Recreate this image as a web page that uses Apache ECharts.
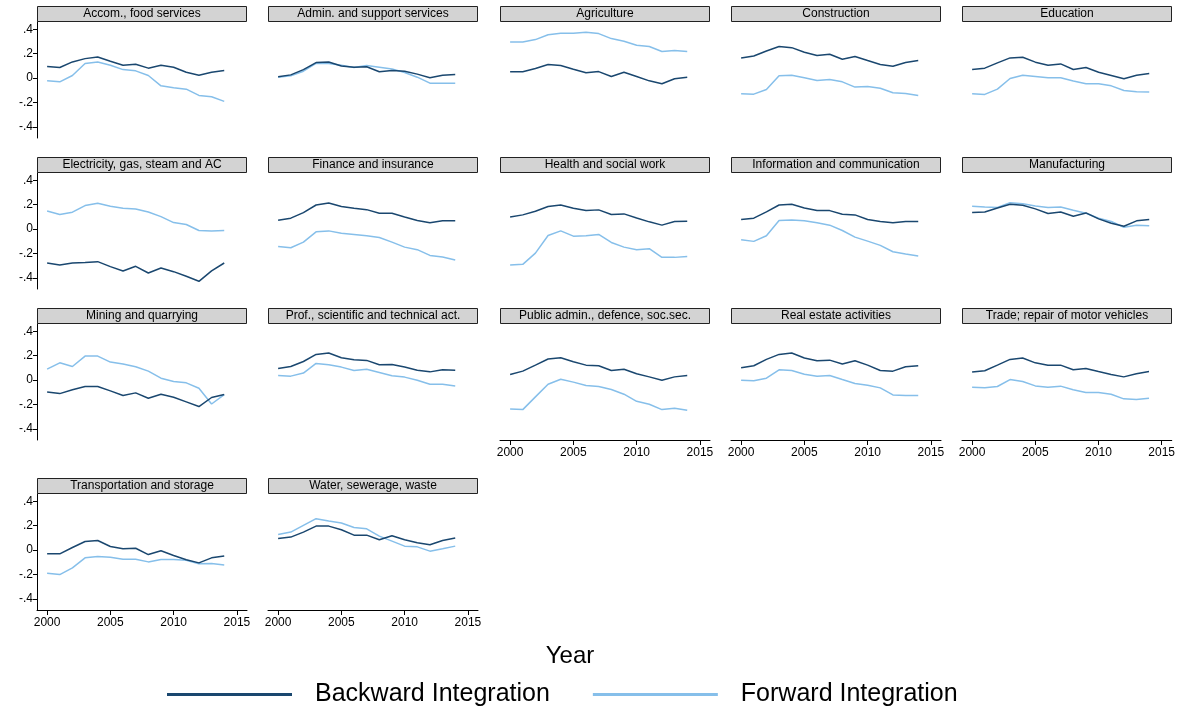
<!DOCTYPE html>
<html>
<head>
<meta charset="utf-8">
<script src="https://cdn.jsdelivr.net/npm/echarts@6/dist/echarts.min.js"></script>
<style>
  html, body { margin: 0; padding: 0; background: #fff; }
  #chart { width: 1178px; height: 709px; }
</style>
</head>
<body>
<div id="chart"></div>
<script>
const years = [2000, 2001, 2002, 2003, 2004, 2005, 2006, 2007, 2008, 2009, 2010, 2011, 2012, 2013, 2014];

const sectors = [
  "Accom., food services", "Admin. and support services", "Agriculture", "Construction", "Education",
  "Electricity, gas, steam and AC", "Finance and insurance", "Health and social work", "Information and communication", "Manufacturing",
  "Mining and quarrying", "Prof., scientific and technical act.", "Public admin., defence, soc.sec.", "Real estate activities", "Trade; repair of motor vehicles",
  "Transportation and storage", "Water, sewerage, waste"
];

// Backward integration, one row per sector (same order as sectors)
const backward = [
  [0.095, 0.087, 0.133, 0.160, 0.174, 0.139, 0.106, 0.114, 0.082, 0.106, 0.090, 0.049, 0.024, 0.049, 0.063],
  [0.011, 0.027, 0.070, 0.128, 0.133, 0.100, 0.090, 0.093, 0.052, 0.063, 0.057, 0.033, 0.003, 0.024, 0.030],
  [0.052, 0.052, 0.079, 0.112, 0.103, 0.073, 0.044, 0.054, 0.014, 0.049, 0.014, -0.022, -0.046, -0.005, 0.008],
  [0.166, 0.182, 0.223, 0.259, 0.250, 0.212, 0.185, 0.196, 0.155, 0.177, 0.144, 0.112, 0.098, 0.128, 0.144],
  [0.071, 0.082, 0.125, 0.166, 0.171, 0.131, 0.106, 0.117, 0.071, 0.087, 0.049, 0.022, -0.005, 0.024, 0.038],
  [-0.277, -0.293, -0.277, -0.272, -0.266, -0.307, -0.342, -0.304, -0.359, -0.318, -0.348, -0.386, -0.427, -0.342, -0.277],
  [0.073, 0.090, 0.136, 0.198, 0.215, 0.185, 0.171, 0.160, 0.130, 0.130, 0.100, 0.071, 0.052, 0.068, 0.068],
  [0.100, 0.117, 0.147, 0.185, 0.198, 0.171, 0.152, 0.158, 0.120, 0.125, 0.092, 0.060, 0.033, 0.063, 0.065],
  [0.079, 0.090, 0.141, 0.198, 0.204, 0.174, 0.152, 0.152, 0.122, 0.117, 0.079, 0.063, 0.052, 0.063, 0.063],
  [0.136, 0.141, 0.174, 0.204, 0.196, 0.166, 0.128, 0.141, 0.106, 0.133, 0.084, 0.049, 0.024, 0.068, 0.079],
  [-0.096, -0.110, -0.079, -0.052, -0.052, -0.088, -0.126, -0.104, -0.148, -0.115, -0.140, -0.178, -0.216, -0.142, -0.118],
  [0.096, 0.112, 0.153, 0.211, 0.222, 0.184, 0.167, 0.162, 0.126, 0.129, 0.107, 0.082, 0.068, 0.085, 0.082],
  [0.047, 0.074, 0.123, 0.173, 0.184, 0.151, 0.123, 0.118, 0.079, 0.090, 0.052, 0.027, 0.000, 0.027, 0.038],
  [0.101, 0.118, 0.170, 0.211, 0.222, 0.181, 0.159, 0.164, 0.132, 0.159, 0.123, 0.079, 0.074, 0.110, 0.118],
  [0.066, 0.077, 0.123, 0.170, 0.181, 0.142, 0.123, 0.123, 0.085, 0.096, 0.071, 0.047, 0.027, 0.052, 0.071],
  [-0.030, -0.030, 0.022, 0.071, 0.079, 0.030, 0.011, 0.016, -0.036, -0.005, -0.044, -0.079, -0.104, -0.063, -0.047],
  [0.096, 0.107, 0.148, 0.197, 0.197, 0.167, 0.123, 0.123, 0.085, 0.118, 0.085, 0.060, 0.044, 0.079, 0.099]
];

// Forward integration, one row per sector
const forward = [
  [-0.022, -0.030, 0.022, 0.120, 0.133, 0.106, 0.070, 0.060, 0.022, -0.063, -0.079, -0.090, -0.141, -0.152, -0.190],
  [0.008, 0.019, 0.057, 0.122, 0.120, 0.106, 0.087, 0.103, 0.090, 0.076, 0.046, 0.008, -0.041, -0.041, -0.041],
  [0.297, 0.297, 0.316, 0.356, 0.367, 0.367, 0.376, 0.365, 0.324, 0.302, 0.269, 0.259, 0.218, 0.226, 0.218],
  [-0.128, -0.131, -0.093, 0.019, 0.024, 0.003, -0.019, -0.011, -0.030, -0.073, -0.068, -0.082, -0.120, -0.125, -0.141],
  [-0.128, -0.133, -0.090, -0.003, 0.024, 0.014, 0.003, 0.003, -0.024, -0.046, -0.046, -0.063, -0.101, -0.112, -0.114],
  [0.149, 0.120, 0.139, 0.193, 0.212, 0.188, 0.171, 0.166, 0.141, 0.103, 0.054, 0.038, -0.011, -0.016, -0.011],
  [-0.141, -0.152, -0.106, -0.022, -0.014, -0.033, -0.043, -0.054, -0.068, -0.106, -0.147, -0.168, -0.215, -0.228, -0.253],
  [-0.293, -0.288, -0.196, -0.052, -0.014, -0.057, -0.054, -0.043, -0.109, -0.147, -0.168, -0.160, -0.231, -0.231, -0.223],
  [-0.087, -0.100, -0.054, 0.071, 0.076, 0.068, 0.052, 0.033, -0.011, -0.065, -0.098, -0.133, -0.185, -0.204, -0.220],
  [0.188, 0.182, 0.177, 0.217, 0.209, 0.190, 0.177, 0.182, 0.155, 0.130, 0.090, 0.063, 0.016, 0.033, 0.027],
  [0.090, 0.142, 0.112, 0.197, 0.197, 0.148, 0.132, 0.110, 0.074, 0.016, -0.011, -0.022, -0.066, -0.195, -0.118],
  [0.038, 0.033, 0.058, 0.137, 0.126, 0.107, 0.079, 0.090, 0.063, 0.036, 0.025, 0.000, -0.033, -0.033, -0.047],
  [-0.236, -0.241, -0.137, -0.033, 0.008, -0.016, -0.044, -0.052, -0.077, -0.115, -0.173, -0.197, -0.241, -0.230, -0.247],
  [0.000, -0.005, 0.016, 0.085, 0.079, 0.049, 0.033, 0.038, 0.005, -0.027, -0.041, -0.063, -0.121, -0.126, -0.126],
  [-0.058, -0.063, -0.052, 0.005, -0.011, -0.047, -0.058, -0.049, -0.079, -0.101, -0.101, -0.115, -0.153, -0.159, -0.148],
  [-0.189, -0.200, -0.145, -0.063, -0.052, -0.058, -0.074, -0.074, -0.096, -0.077, -0.077, -0.082, -0.112, -0.110, -0.121],
  [0.129, 0.148, 0.203, 0.258, 0.238, 0.222, 0.186, 0.175, 0.115, 0.074, 0.033, 0.027, -0.008, 0.011, 0.033]
];

const yTicks = [-0.4, -0.2, 0, 0.2, 0.4];
const xTicks = [2000, 2005, 2010, 2015];
const seriesNames = ["Backward Integration", "Forward Integration"];

const FONT = "'Liberation Sans', Arial, sans-serif";
const DARK = "#1a476f";
const LIGHT = "#86bfea";

// panel layout
const colLeft = [37, 268, 500, 731, 962];
const rowTop = [22, 173, 324, 494];
const panelW = 210, panelH = 116, headH = 16;
const bottomPanels = [12, 13, 14, 15, 16];

const chart = echarts.init(document.getElementById("chart"));

const grid = [], xAxis = [], yAxis = [], series = [], graphic = [];

sectors.forEach((name, i) => {
  const col = i % 5, row = Math.floor(i / 5);
  const left = colLeft[col], top = rowTop[row];
  const showX = bottomPanels.includes(i);
  const showY = col === 0;

  grid.push({ left: left, top: top, width: panelW, height: panelH });

  xAxis.push({
    type: "value",
    gridIndex: i,
    min: 1999.2,
    max: 2015.8,
    show: showX,
    axisLine: { show: showX, onZero: false, lineStyle: { color: "#000", width: 1 } },
    axisTick: { show: showX, length: 5, customValues: xTicks, lineStyle: { color: "#000" } },
    axisLabel: {
      show: showX, customValues: xTicks, margin: 7,
      color: "#000", fontSize: 12, fontFamily: FONT,
      formatter: v => String(v)
    },
    splitLine: { show: false }
  });

  yAxis.push({
    type: "value",
    gridIndex: i,
    min: -0.49,
    max: 0.46,
    show: showY,
    axisLine: { show: showY, lineStyle: { color: "#000", width: 1 } },
    axisTick: { show: showY, length: 4, customValues: yTicks, lineStyle: { color: "#000" } },
    axisLabel: {
      show: showY, customValues: yTicks, margin: 4,
      color: "#000", fontSize: 12, fontFamily: FONT,
      formatter: v => {
        if (Math.abs(v) < 1e-9) return "0";
        return (v < 0 ? "-" : "") + String(Math.abs(Math.round(v * 10) / 10)).replace("0.", ".");
      }
    },
    splitLine: { show: false }
  });

  series.push({
    name: seriesNames[0], type: "line", xAxisIndex: i, yAxisIndex: i,
    data: years.map((y, k) => [y, backward[i][k]]),
    showSymbol: false, z: 3,
    lineStyle: { color: DARK, width: 1.5 }, itemStyle: { color: DARK }
  });
  series.push({
    name: seriesNames[1], type: "line", xAxisIndex: i, yAxisIndex: i,
    data: years.map((y, k) => [y, forward[i][k]]),
    showSymbol: false, z: 2,
    lineStyle: { color: LIGHT, width: 1.5 }, itemStyle: { color: LIGHT }
  });

  // strip header above each panel
  graphic.push({
    type: "rect",
    shape: { x: left + 0.5, y: top - headH + 0.5, width: panelW - 1, height: headH - 1 },
    style: { fill: "#d3d3d3", stroke: "#222", lineWidth: 1 },
    silent: true
  });
  graphic.push({
    type: "text",
    x: left + panelW / 2,
    y: top - headH / 2,
    style: {
      text: name, fill: "#000", fontSize: 12, fontFamily: FONT,
      align: "center", verticalAlign: "middle",
      textAlign: "center", textVerticalAlign: "middle"
    },
    silent: true
  });
});

graphic.push({
  type: "text",
  x: 570,
  y: 656,
  style: {
    text: "Year", fill: "#000", fontSize: 24, fontFamily: FONT,
    align: "center", verticalAlign: "middle",
    textAlign: "center", textVerticalAlign: "middle"
  },
  silent: true
});

chart.setOption({
  animation: false,
  grid: grid,
  xAxis: xAxis,
  yAxis: yAxis,
  series: series,
  graphic: graphic,
  legend: {
    data: seriesNames,
    left: 162,
    top: 677,
    icon: "rect",
    itemWidth: 125,
    itemHeight: 3,
    itemGap: 43,
    textStyle: { fontSize: 25, fontFamily: FONT, color: "#000", padding: [0, 0, 0, 18] }
  }
});

window.addEventListener("resize", () => chart.resize());
</script>
</body>
</html>
